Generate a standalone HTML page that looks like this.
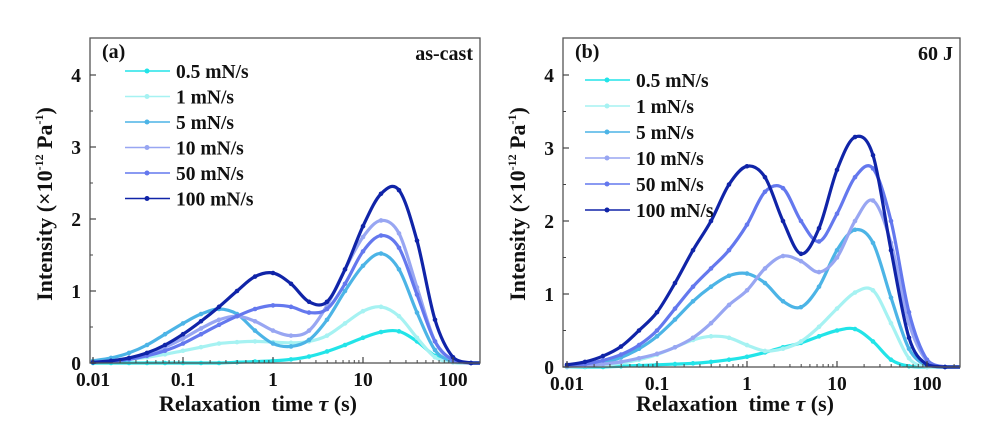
<!DOCTYPE html>
<html><head><meta charset="utf-8"><style>
body{margin:0;background:#fff;}
svg{display:block;font-family:"Liberation Serif",serif;font-weight:bold;}
</style></head><body>
<svg id="chart" width="997" height="440" viewBox="0 0 997 440"></svg>
<script>
const logTau = [-2,-1.8,-1.6,-1.4,-1.2,-1,-0.8,-0.6,-0.4,-0.2,0,0.2,0.4,0.6,0.8,1,1.2,1.4,1.6,1.8,2,2.2];
const seriesNames = ["0.5 mN/s","1 mN/s","5 mN/s","10 mN/s","50 mN/s","100 mN/s"];
const seriesColors = ["#22e4e8","#a6f2f2","#4cb4e6","#98a6f2","#6478ee","#1024a8"];
const xTickLabels = ["0.01","0.1","1","10","100"];
const yTickLabels = ["0","1","2","3","4"];
// panel (a) as-cast
const a05 = [0,0,0,0,0,0,0,0,0.01,0.02,0.03,0.05,0.09,0.16,0.25,0.35,0.43,0.44,0.3,0.1,0.01,0];
const a1 = [0.02,0.03,0.05,0.08,0.12,0.17,0.22,0.27,0.29,0.3,0.29,0.28,0.3,0.38,0.55,0.72,0.78,0.65,0.35,0.08,0.01,0];
const a5 = [0.03,0.07,0.14,0.25,0.4,0.55,0.68,0.75,0.68,0.45,0.27,0.23,0.32,0.6,1.0,1.35,1.52,1.3,0.7,0.18,0.02,0];
const a10 = [0.01,0.03,0.06,0.12,0.22,0.34,0.48,0.6,0.65,0.58,0.45,0.38,0.45,0.8,1.3,1.75,1.98,1.8,1.05,0.3,0.04,0];
const a50 = [0.01,0.02,0.05,0.1,0.17,0.27,0.4,0.53,0.65,0.75,0.8,0.78,0.7,0.75,1.1,1.55,1.77,1.6,0.95,0.3,0.04,0];
const a100 = [0.01,0.03,0.07,0.14,0.25,0.4,0.58,0.78,1.0,1.2,1.25,1.1,0.85,0.85,1.3,1.9,2.35,2.4,1.7,0.6,0.08,0];
// panel (b) 60 J
const b05 = [0,0,0,0.01,0.02,0.03,0.04,0.05,0.07,0.1,0.14,0.2,0.27,0.33,0.42,0.5,0.52,0.35,0.1,0.01,0,0];
const b1 = [0,0.01,0.02,0.05,0.1,0.17,0.27,0.37,0.42,0.4,0.3,0.22,0.25,0.35,0.55,0.8,1.02,1.05,0.6,0.12,0,0];
const b5 = [0.01,0.03,0.06,0.13,0.25,0.42,0.65,0.9,1.1,1.25,1.28,1.15,0.9,0.82,1.1,1.6,1.88,1.7,0.95,0.25,0.02,0];
const b10 = [0.01,0.02,0.04,0.07,0.12,0.18,0.27,0.4,0.6,0.85,1.05,1.35,1.52,1.45,1.3,1.5,2.0,2.28,1.7,0.6,0.08,0];
const b50 = [0.02,0.04,0.09,0.17,0.3,0.5,0.8,1.1,1.35,1.6,1.95,2.4,2.45,2.0,1.72,2.1,2.6,2.72,2.0,0.75,0.1,0];
const b100 = [0.03,0.07,0.15,0.28,0.5,0.75,1.15,1.6,2.0,2.5,2.75,2.6,2.0,1.55,1.9,2.7,3.15,2.9,1.6,0.4,0.03,0];

const NS="http://www.w3.org/2000/svg";
const svg=document.getElementById('chart');
function mk(tag,attrs,parent,text){const e=document.createElementNS(NS,tag);for(const k in attrs)e.setAttribute(k,attrs[k]);if(text!==undefined)e.textContent=text;(parent||svg).appendChild(e);return e;}

function panel(cfg){
  const g=mk('g',{});
  
  
  const X=v=>cfg.x1+v*cfg.dec;
  const Y=v=>cfg.y0-v*cfg.unit;
  const clip='clip-'+cfg.name;
  const defs=mk('defs',{},g);
  const cp=mk('clipPath',{id:clip},defs);
  mk('rect',{x:cfg.L,y:cfg.T,width:cfg.R-cfg.L,height:cfg.y0+3-cfg.T},cp);
  const data=cfg.data;
  for(let s=0;s<data.length;s++){
    const vals=data[s];
    const pts=logTau.map((t,i)=>[X(t),Y(vals[i])]);
    let d='M'+pts[0][0]+','+pts[0][1];
    for(let i=0;i<pts.length-1;i++){
      const p0=pts[Math.max(0,i-1)],p1=pts[i],p2=pts[i+1],p3=pts[Math.min(pts.length-1,i+2)];
      const c1=[p1[0]+(p2[0]-p0[0])/6,p1[1]+(p2[1]-p0[1])/6];
      const c2=[p2[0]-(p3[0]-p1[0])/6,p2[1]-(p3[1]-p1[1])/6];
      d+=` C${c1[0]},${Math.min(cfg.y0,c1[1])} ${c2[0]},${Math.min(cfg.y0,c2[1])} ${p2[0]},${p2[1]}`;
    }
    d+=` L${cfg.R},${cfg.y0}`;
    const path=mk('path',{d:d,fill:'none',stroke:seriesColors[s],'stroke-width':3.2,'clip-path':`url(#${clip})`,'stroke-linejoin':'round'},g);
    
    
    for(const p of pts){
      const c=mk('circle',{cx:p[0],cy:p[1],r:2.3,fill:seriesColors[s],'clip-path':`url(#${clip})`},g);
      
      
    }
  }
  const fr=mk('rect',{x:cfg.L,y:cfg.T,width:cfg.R-cfg.L,height:cfg.B-cfg.T,fill:'none',stroke:'#555','stroke-width':1.3},g);
  
  
  for(let k=0;k<xTickLabels.length;k++){
    const lv=k-2, x=X(lv);
    mk('line',{x1:x,y1:cfg.B,x2:x,y2:cfg.B-6,stroke:'#444','stroke-width':1.2},g);
    const t=mk('text',{x:x,y:cfg.B+23,'text-anchor':'middle','font-size':19.5,fill:'#111'},g,xTickLabels[k]);
    
    
    for(let m=2;m<10;m++){const xm=X(lv+Math.log10(m));if(xm<cfg.R)mk('line',{x1:xm,y1:cfg.B,x2:xm,y2:cfg.B-3,stroke:'#444','stroke-width':1},g);}
  }
  for(let k=0;k<yTickLabels.length;k++){
    const y=Y(k);
    mk('line',{x1:cfg.L,y1:y,x2:cfg.L+6,y2:y,stroke:'#444','stroke-width':1.2},g);
    if(k<4){const ym=Y(k+0.5);mk('line',{x1:cfg.L,y1:ym,x2:cfg.L+3,y2:ym,stroke:'#444','stroke-width':1},g);}
    const t=mk('text',{x:cfg.L-9,y:y+7,'text-anchor':'end','font-size':19.5,fill:'#111'},g,yTickLabels[k]);
    
    
  }
  const xt=mk('text',{x:cfg.xtX,y:411,'text-anchor':'middle','font-size':22,fill:'#111'},g);
  xt.innerHTML='Relaxation&#160;&#160;time <tspan font-style="italic">τ</tspan> (s)';
  
  
  const yt=mk('text',{transform:`translate(${cfg.ytX},${cfg.ytY}) rotate(-90)`,'text-anchor':'middle','font-size':22,fill:'#111'},g);
  yt.innerHTML='Intensity (×10<tspan font-size="12" dy="-9">-12</tspan><tspan dy="9"> Pa</tspan><tspan font-size="12" dy="-9">-1</tspan><tspan dy="9">)</tspan>';
  
  
  const pl=mk('text',{x:cfg.L+12,y:cfg.T+20,'font-size':20,fill:'#111'},g,cfg.label);
  
  
  const cd=mk('text',{x:cfg.R-7,y:cfg.T+22,'text-anchor':'end','font-size':20,fill:'#111'},g,cfg.cond);
  
  
  for(let s=0;s<seriesNames.length;s++){
    const y=cfg.legY+s*cfg.legDy;
    const lg=mk('g',{},g);
    
    
    mk('line',{x1:cfg.legX,y1:y,x2:cfg.legX+45,y2:y,stroke:seriesColors[s],'stroke-width':1.5},lg);
    mk('circle',{cx:cfg.legX+22,cy:y,r:2.5,fill:seriesColors[s]},lg);
    mk('text',{x:cfg.legX+51,y:y+7,'font-size':19.5,fill:'#111'},lg,seriesNames[s]);
  }
}
panel({name:'panel-a',L:90,R:480,T:38,B:363,y0:363,unit:72,x1:273,dec:90,xtX:258,ytX:52,ytY:204,label:'(a)',cond:'as-cast',legX:125,legY:71,legDy:25.5,data:[a05,a1,a5,a10,a50,a100]});
panel({name:'panel-b',L:563,R:960,T:38,B:367,y0:367,unit:73,x1:747,dec:90,xtX:735,ytX:525,ytY:204,label:'(b)',cond:'60 J',legX:585,legY:80,legDy:26,data:[b05,b1,b5,b10,b50,b100]});
</script>
</body></html>
